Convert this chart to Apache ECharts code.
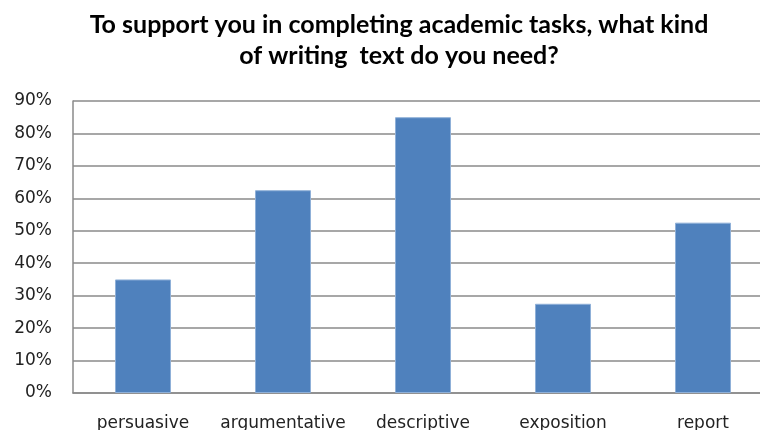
<!DOCTYPE html>
<html>
<head>
<meta charset="utf-8">
<script src="https://cdn.jsdelivr.net/npm/echarts@6/dist/echarts.min.js"></script>
<style>
  html, body { margin: 0; padding: 0; background: #fff; overflow: hidden; }
  #chart { width: 760px; height: 430px; }
</style>
</head>
<body>
<div id="chart"></div>
<script>
// Survey answers: share of respondents needing each kind of writing text
var titleText = 'To support you in completing academic tasks, what kind\nof writing  text do you need?';
var categories = ['persuasive', 'argumentative', 'descriptive', 'exposition', 'report'];
var shares = [35, 62.5, 85, 27.5, 52.5];
var yMin = 0;
var yMax = 90;
var yStep = 10;

var chart = echarts.init(document.getElementById('chart'), null, { renderer: 'canvas' });

chart.setOption({
  backgroundColor: '#ffffff',
  animation: false,
  title: {
    text: titleText,
    left: 394,
    textAlign: 'center',
    top: 4,
    textStyle: {
      fontFamily: 'Lato',
      fontWeight: 'bold',
      fontSize: 25,
      lineHeight: 31,
      color: '#000000'
    }
  },
  // plot area runs past the right edge of the window
  grid: {
    left: 73,
    top: 101,
    right: -13,
    bottom: 37,
    containLabel: false,
    outerBoundsMode: 'none'
  },
  xAxis: {
    type: 'category',
    data: categories,
    axisLine: { show: true, lineStyle: { color: '#8a8a8a', width: 1.5 } },
    axisTick: { show: false },
    axisLabel: {
      interval: 0,
      margin: 22,
      fontFamily: 'DejaVu Sans',
      fontSize: 17,
      color: '#222222'
    }
  },
  yAxis: {
    type: 'value',
    min: yMin,
    max: yMax,
    interval: yStep,
    axisLine: { show: true, lineStyle: { color: '#8a8a8a', width: 1.5 } },
    axisTick: { show: false },
    axisLabel: {
      margin: 21,
      fontFamily: 'DejaVu Sans',
      fontSize: 17,
      color: '#222222',
      formatter: '{value}%'
    },
    splitLine: { show: true, lineStyle: { color: '#8a8a8a', width: 1.5 } }
  },
  series: [{
    type: 'bar',
    data: shares,
    barWidth: '40%',
    itemStyle: {
      color: '#4f81bd',
      borderColor: '#8fb0d8',
      borderWidth: 1
    }
  }]
});
</script>
</body>
</html>
